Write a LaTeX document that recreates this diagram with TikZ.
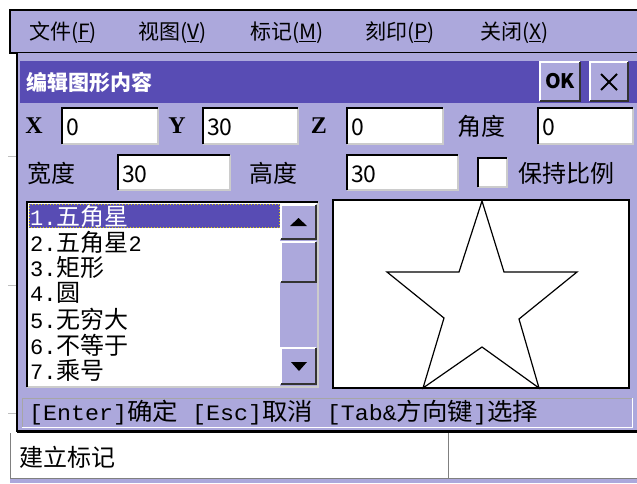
\documentclass[tikz,border=0pt]{standalone}
\usepackage{fontspec}
\setmainfont{Noto Sans CJK SC}
\newfontfamily\monof{Liberation Mono}
\newfontfamily\serifmono{Liberation Serif}
\definecolor{lp}{RGB}{172,168,220}
\definecolor{dp}{RGB}{88,76,180}
\newcommand\mo[1]{{\monof\fontsize{22}{22}\selectfont #1}}
\newcommand\fs[1]{\fontsize{#1}{#1}\selectfont}
\newcommand\sunkenfield[4]{%
  \fill[white] (#1,#2) rectangle (#3,#4);
  \draw[line width=1.2pt,gray!40] (#3,#2) -- (#3,#4) -- (#1,#4);
  \draw[line width=2pt,black] (#1,#4) -- (#1,#2) -- (#3,#2);
}
\newcommand\raisedbtn[4]{%
  \fill[lp] (#1,#2) rectangle (#3,#4);
  \draw[line width=1.5pt,white] (#1,#4) -- (#1,#2) -- (#3,#2);
  \draw[line width=2pt,black!80] (#1,#4) -- (#3,#4) -- (#3,#2);
}
\tikzset{
  lbl/.style={inner sep=0pt, anchor=west, font=\fs{24}},
  val/.style={inner sep=0pt, anchor=west, font=\fs{23}},
  axis lbl/.style={inner sep=0pt, font=\serifmono\fs{24}\bfseries},
  menuitem/.style={inner sep=0pt, anchor=west, font=\fs{21}},
  item/.style={inner sep=0pt, anchor=west, font=\fs{24}},
  tick/.style={gray!50, line width=1pt}
}
\begin{document}
\begin{tikzpicture}[x=1pt,y=-1pt]
\useasboundingbox (0,0) rectangle (637,483);
\fill[white] (0,0) rectangle (637,483);
% menu bar
\fill[lp] (10,10) rectangle (640,53);
\draw[black,line width=1.5pt] (640,10) -- (10,10) -- (10,53) -- (640,53);
\node[menuitem] (m1) at (29,33) {文件(\underline{F})};
\node[menuitem] (m2) at (138,33) {视图(\underline{V})};
\node[menuitem] (m3) at (250,33) {标记(\underline{M})};
\node[menuitem] (m4) at (365,33) {刻印(\underline{P})};
\node[menuitem] (m5) at (480,33) {关闭(\underline{X})};
% left ticks
\draw[tick] (8,156) -- (17,156);
\draw[tick] (8,285) -- (17,285);
\draw[tick] (8,413) -- (17,413);
% dialog
\fill[lp] (17,53) rectangle (640,433);
\draw[black,line width=1.5pt] (17,53) -- (17,432);
\draw[black,line width=3pt] (17,431.5) -- (640,431.5);
% title bar
\fill[dp] (20,61) rectangle (640,103);
\node[inner sep=0pt,anchor=west,text=white,font=\fs{21}\bfseries] (title) at (26,82) {编辑图形内容};
\raisedbtn{540}{62}{580}{101}
\node[inner sep=0pt,font=\fs{20}\bfseries] (ok) at (560,81.5) {OK};
\raisedbtn{590}{62}{628}{101}
\coordinate (c1) at (601,74);
\coordinate (c2) at (617,90);
\coordinate (c3) at (617,74);
\coordinate (c4) at (601,90);
\draw[black,line width=1.8pt] (c1) -- (c2);
\draw[black,line width=1.8pt] (c3) -- (c4);
% row 1
\node[axis lbl] (lx) at (34,126) {X};
\sunkenfield{62}{108}{158}{144}
\node[val] (vx) at (66,127) {0};
\node[axis lbl] (ly) at (177,126) {Y};
\sunkenfield{203}{108}{298}{144}
\node[val] (vy) at (207,127) {30};
\node[axis lbl] (lz) at (319,126) {Z};
\sunkenfield{347}{108}{443}{144}
\node[val] (vz) at (351,127) {0};
\node[lbl] (lang) at (457,126) {角度};
\sunkenfield{538}{108}{633}{144}
\node[val] (vang) at (542,127) {0};
% row 2
\node[lbl] (lw) at (27,173) {宽度};
\sunkenfield{118}{155}{230}{190}
\node[val] (vw) at (122,174) {30};
\node[lbl] (lh) at (249,173) {高度};
\sunkenfield{347}{155}{458}{190}
\node[val] (vh) at (351,174) {30};
\sunkenfield{478}{158}{507}{187}
\node[lbl] (lkeep) at (518,173) {保持比例};
% list box
\sunkenfield{27}{202}{318}{387}
\fill[dp] (29,204) rectangle (280,228);
\draw[yellow!70!olive,dotted,line width=1pt] (29.5,204.5) rectangle (279.5,227.5);
\node[item,text=white] (i1) at (30,216) {\mo{1.}五角星};
\node[item] (i2) at (30,242) {\mo{2.}五角星\mo{2}};
\node[item] (i3) at (30,267.5) {\mo{3.}矩形};
\node[item] (i4) at (30,293) {\mo{4.}圆};
\node[item] (i5) at (30,319) {\mo{5.}无穷大};
\node[item] (i6) at (30,345) {\mo{6.}不等于};
\node[item] (i7) at (30,370) {\mo{7.}乘号};
% scrollbar
\fill[lp] (280,204) rectangle (317,386);
\raisedbtn{281}{205}{316}{239}
\fill[black] (290,226) -- (307,226) -- (298.5,218) -- cycle;
\raisedbtn{281}{242}{316}{282}
\raisedbtn{281}{348}{316}{384}
\fill[black] (291,362) -- (307,362) -- (299,371) -- cycle;
% star preview
\fill[white] (333,200) rectangle (629,388);
\draw[black,line width=2pt] (333,200) rectangle (629,388);
\draw[black,line width=1.2pt] (482,201) -- (504,272) -- (577,272) -- (519,319) -- (539,388) -- (482,347) -- (423,388) -- (444,318) -- (387,272) -- (459,272) -- cycle;
% status bar
\draw[gray!70,line width=1pt] (22,427) -- (22,398) -- (632,398);
\draw[white,line width=1pt] (632,398) -- (632,427) -- (22,427);
\node[inner sep=0pt,anchor=west,font=\fs{24}] (status) at (29,413) {\scalebox{1.06}[1]{\mo{[Enter]}确定\mo{ [Esc]}取消\mo{ [Tab\&}方向键\mo{]}选择}};
% bottom panel
\fill[white] (10,433) rectangle (637,478);
\fill[lp] (10,478) rectangle (637,483);
\draw[gray,line width=1pt] (10,433) -- (10,478) -- (637,478);
\draw[gray,line width=1pt] (448,433) -- (448,478);
\node[lbl] (mark) at (19,457) {建立标记};
\end{tikzpicture}
\end{document}
